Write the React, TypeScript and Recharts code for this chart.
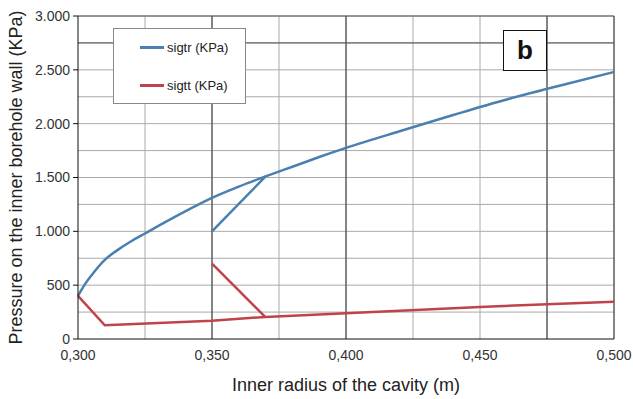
import React from "react";
import {
  LineChart,
  Line,
  XAxis,
  YAxis,
  CartesianGrid,
  ReferenceLine,
  Legend,
} from "recharts";

// radius (m) and pressure (KPa)
const sigtrX = [0.3, 0.3025, 0.305, 0.31, 0.315, 0.32, 0.325, 0.33, 0.34, 0.35, 0.36, 0.37, 0.38, 0.39, 0.4, 0.42, 0.44, 0.45, 0.46, 0.48, 0.5];
const sigtrY = [400, 505, 590, 735, 830, 910, 980, 1050, 1185, 1310, 1415, 1510, 1600, 1690, 1775, 1930, 2080, 2155, 2225, 2355, 2480];
const sigtrBranchX = [0.35, 0.37];
const sigtrBranchY = [1000, 1510];

const sigttX = [0.3, 0.31, 0.35, 0.37, 0.4, 0.45, 0.475, 0.5];
const sigttY = [400, 128, 170, 205, 240, 298, 323, 346];
const sigttBranchX = [0.35, 0.37];
const sigttBranchY = [700, 200];

const xTicks = [0.3, 0.35, 0.4, 0.45, 0.5];
const yTicks = [0, 500, 1000, 1500, 2000, 2500, 3000];
const xGrid = [0.325, 0.35, 0.375, 0.4, 0.425, 0.45, 0.475, 0.5];
const yGrid = [250, 500, 750, 1000, 1250, 1500, 1750, 2000, 2250, 2500, 2750, 3000];
const xGridDark = [0.35, 0.4, 0.475, 0.5];
const yGridDark = [2750, 3000];

const seriesNames = ["sigtr (KPa)", "sigtt (KPa)"];

const BLUE = "#4a7fb0";
const RED = "#c0434c";
const FONT = "'Liberation Sans', Arial, Helvetica, sans-serif";

const toPoints = (xs: number[], ys: number[]) => xs.map((x, i) => ({ x, y: ys[i] }));

const renderLegend = () => (
  <div
    style={{
      width: 133,
      height: 76,
      boxSizing: "border-box",
      background: "#fff",
      border: "1px solid #888",
      fontFamily: FONT,
      fontSize: 13,
      color: "#222",
      position: "relative",
    }}
  >
    {seriesNames.map((name, i) => (
      <div
        key={name}
        style={{
          position: "absolute",
          left: 26,
          top: i === 0 ? 11 : 49,
          display: "flex",
          alignItems: "center",
        }}
      >
        <span
          style={{
            display: "inline-block",
            width: 24,
            height: 3,
            background: i === 0 ? BLUE : RED,
            marginRight: 3,
          }}
        />
        <span>{name}</span>
      </div>
    ))}
  </div>
);

const App = () => {
  const fmtX = (v: number) => v.toFixed(3).replace(".", ",");
  const fmtY = (v: number) =>
    v >= 1000 ? `${Math.floor(v / 1000)}.${String(v % 1000).padStart(3, "0")}` : String(v);

  return (
    <div style={{ position: "absolute", left: 0, top: 0, width: 633, height: 399, background: "#fff" }}>
      <LineChart
        width={633}
        height={399}
        margin={{ top: 16, right: 19, bottom: 0, left: 0 }}
        style={{ fontFamily: FONT }}
      >
        <CartesianGrid
          stroke="#aaa"
          strokeWidth={1}
          horizontalValues={yGrid}
          verticalValues={xGrid}
        />
        {xGridDark.map((v) => (
          <ReferenceLine key={"vx" + v} x={v} stroke="#333" strokeWidth={1} />
        ))}
        {yGridDark.map((v) => (
          <ReferenceLine key={"hy" + v} y={v} stroke="#555" strokeWidth={1} />
        ))}
        <XAxis
          type="number"
          dataKey="x"
          domain={[0.3, 0.5]}
          ticks={xTicks}
          tickFormatter={fmtX}
          height={60}
          tickLine={false}
          tickSize={0}
          tickMargin={11}
          axisLine={{ stroke: "#111" }}
          tick={{ fill: "#333", fontSize: 14 }}
          label={{
            value: "Inner radius of the cavity (m)",
            position: "insideBottom",
            offset: 8,
            style: { fill: "#222", fontSize: 18 },
          }}
        />
        <YAxis
          type="number"
          domain={[0, 3000]}
          ticks={yTicks}
          tickFormatter={fmtY}
          width={78}
          tickSize={5}
          tickMargin={3}
          tickLine={{ stroke: "#111" }}
          axisLine={{ stroke: "#111" }}
          tick={{ fill: "#333", fontSize: 14 }}
          label={{
            value: "Pressure on the inner borehole wall (KPa)",
            angle: -90,
            position: "insideLeft",
            offset: 16,
            style: { textAnchor: "middle", fill: "#222", fontSize: 18 },
          }}
        />
        <Legend
          layout="vertical"
          align="center"
          verticalAlign="middle"
          content={renderLegend}
          wrapperStyle={{ left: 113, top: 28, width: 133, height: 76 }}
        />
        <Line
          data={toPoints(sigtrX, sigtrY)}
          dataKey="y"
          name={seriesNames[0]}
          stroke={BLUE}
          strokeWidth={2.5}
          dot={false}
          type="monotone"
          isAnimationActive={false}
        />
        <Line
          data={toPoints(sigtrBranchX, sigtrBranchY)}
          dataKey="y"
          name="sigtr-branch"
          stroke={BLUE}
          strokeWidth={2.5}
          dot={false}
          type="linear"
          legendType="none"
          isAnimationActive={false}
        />
        <Line
          data={toPoints(sigttX, sigttY)}
          dataKey="y"
          name={seriesNames[1]}
          stroke={RED}
          strokeWidth={2.5}
          dot={false}
          type="linear"
          isAnimationActive={false}
        />
        <Line
          data={toPoints(sigttBranchX, sigttBranchY)}
          dataKey="y"
          name="sigtt-branch"
          stroke={RED}
          strokeWidth={2.5}
          dot={false}
          type="linear"
          legendType="none"
          isAnimationActive={false}
        />
      </LineChart>
      <div
        style={{
          position: "absolute",
          left: 503,
          top: 30,
          width: 44,
          height: 41,
          boxSizing: "border-box",
          border: "1.5px solid #111",
          background: "#fff",
          fontFamily: FONT,
          fontWeight: "bold",
          fontSize: 26,
          lineHeight: "38px",
          textAlign: "center",
          color: "#111",
        }}
      >
        b
      </div>
    </div>
  );
};

export default App;
